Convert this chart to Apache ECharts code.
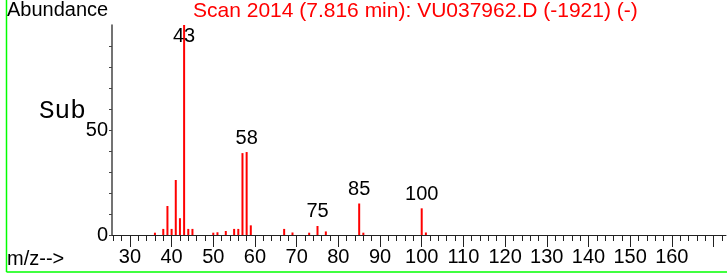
<!DOCTYPE html>
<html>
<head>
<meta charset="utf-8">
<title>Scan 2014</title>
<script src="https://cdn.jsdelivr.net/npm/echarts@6.0.0/dist/echarts.min.js"></script>
<style>
    html, body { margin: 0; padding: 0; background: #fff; }
    #main { width: 727px; height: 275px; }
</style>
</head>
<body>
<div id="main"></div>
<script>
// m/z and relative abundance
var masses = [36, 38, 39, 40, 41, 42, 43, 44, 45, 50, 51, 53, 55, 56, 57, 58, 59, 67, 69, 73, 75, 77, 85, 86, 100, 101];
var abundance = [1.1, 2.9, 13.8, 2.9, 26.2, 8, 100, 2.9, 2.9, 1.1, 1.3, 1.9, 2.9, 2.9, 39, 39.5, 4.6, 2.9, 1.2, 1.1, 4.3, 1.7, 15, 1.1, 12.7, 1.2];
var labeledMasses = [43, 58, 75, 85, 100];

// axis ticks
var minorTicks = [26, 28, 30, 32, 34, 36, 38, 40, 42, 44, 46, 48, 50, 52, 54, 56, 58, 60, 62, 64, 66, 68, 70, 72, 74, 76, 78, 80, 82, 84, 86, 88, 90, 92, 94, 96, 98, 100, 102, 104, 106, 108, 110, 112, 114, 116, 118, 120, 122, 124, 126, 128, 130, 132, 134, 136, 138, 140, 142, 144, 146, 148, 150, 152, 154, 156, 158, 160, 162, 164, 166, 168, 170, 172];
var majorTicks = [30, 40, 50, 60, 70, 80, 90, 100, 110, 120, 130, 140, 150, 160, 170];
var xTickLabels = [30, 40, 50, 60, 70, 80, 90, 100, 110, 120, 130, 140, 150, 160];
var yTicks = [0, 10, 20, 30, 40, 50, 60, 70, 80, 90];
var yTickLabels = [0, 50];

var titleText = 'Scan 2014 (7.816 min): VU037962.D (-1921) (-)';

(function () {
    var myChart = echarts.init(document.getElementById('main'));

    var font = '"Liberation Sans", Arial, sans-serif';

    var data = masses.map(function (m, i) {
        var item = { value: [m, abundance[i]] };
        if (labeledMasses.indexOf(m) >= 0) {
            item.label = { show: true };
            // top peak: label sits inside the plot
            if (m === 43) {
                item.label.position = 'insideTop';
                item.label.distance = 1;
            }
        }
        return item;
    });

    var option = {
        animation: false,
        grid: {
            left: 112,
            right: 1,
            top: 25,
            bottom: 40
        },
        xAxis: [{
            type: 'value',
            min: 25.7,
            max: 173,
            axisLine: { show: true, lineStyle: { color: '#222', width: 1 } },
            axisTick: { show: true, customValues: minorTicks, length: 6, lineStyle: { color: '#222' } },
            axisLabel: { show: false },
            splitLine: { show: false }
        }, {
            type: 'value',
            min: 25.7,
            max: 173,
            position: 'bottom',
            axisLine: { show: false },
            axisTick: { show: true, customValues: majorTicks, length: 12, lineStyle: { color: '#222' } },
            axisLabel: {
                show: true,
                customValues: xTickLabels,
                margin: 12,
                color: '#000',
                fontSize: 20,
                fontFamily: font
            },
            splitLine: { show: false }
        }],
        yAxis: {
            type: 'value',
            min: 0,
            max: 100,
            axisLine: { show: true, lineStyle: { color: '#444', width: 1.5 } },
            axisTick: { show: true, customValues: yTicks, length: 3, lineStyle: { color: '#444' } },
            axisLabel: {
                customValues: yTickLabels,
                margin: 4,
                color: '#000',
                fontSize: 20,
                fontFamily: font
            },
            splitLine: { show: false }
        },
        series: [{
            type: 'bar',
            xAxisIndex: 0,
            barWidth: 2,
            itemStyle: { color: '#ff0000' },
            label: {
                show: false,
                position: 'top',
                distance: 4,
                color: '#000',
                fontSize: 20,
                fontFamily: font,
                formatter: function (p) { return p.value[0]; }
            },
            data: data
        }],
        graphic: [
            // green frame (left and bottom)
            { type: 'line', shape: { x1: 6.5, y1: 0, x2: 6.5, y2: 272 }, style: { stroke: '#00ff00', lineWidth: 1.5 } },
            { type: 'line', shape: { x1: 6.5, y1: 272, x2: 727, y2: 272 }, style: { stroke: '#00ff00', lineWidth: 1.5 } },
            { type: 'text', x: 7, y: 10.5, style: { text: 'Abundance', fill: '#000', font: '20px ' + font, textVerticalAlign: 'middle' } },
            { type: 'text', x: 193, y: 11.5, style: { text: titleText, fill: '#ff0000', font: '21px ' + font, textVerticalAlign: 'middle' } },
            { type: 'text', x: 39, y: 111, style: { text: 'Sub', fill: '#000', font: '26px "Liberation Mono", "Courier New", monospace', textVerticalAlign: 'middle' } },
            { type: 'text', x: 7, y: 259, style: { text: 'm/z-->', fill: '#000', font: '20px ' + font, textVerticalAlign: 'middle' } }
        ]
    };

    myChart.setOption(option);
    window.addEventListener("resize", function () {
        myChart.resize();
    });
})();
</script>
</body>
</html>
